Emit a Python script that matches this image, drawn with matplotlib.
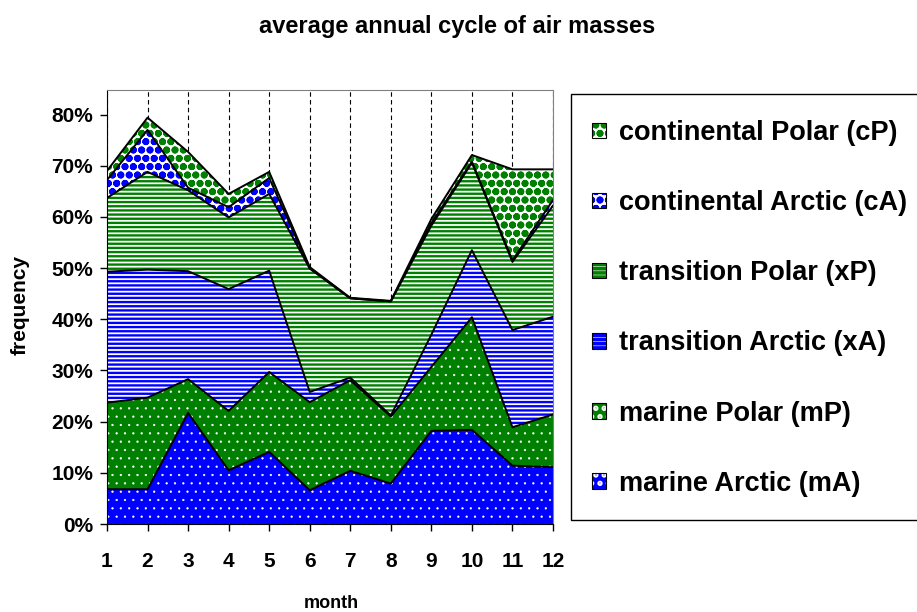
import matplotlib
matplotlib.use("Agg")
import numpy as np
import matplotlib.pyplot as plt
from matplotlib.patches import Patch, Rectangle
from matplotlib.legend_handler import HandlerTuple
from matplotlib.ticker import PercentFormatter

# monthly frequency of each air mass (%)
months = list(range(1, 13))
mA = [6.8, 6.8, 21.7, 10.5, 14.1, 6.6, 10.4, 7.9, 18.2, 18.4, 11.4, 11.1]
mP = [16.9, 17.9, 6.6, 11.6, 15.6, 17.2, 17.7, 13.1, 12.5, 22.0, 7.5, 10.3]
xA = [25.6, 25.0, 21.1, 23.8, 19.8, 2.0, 0.5, 0.2, 6.3, 13.1, 19.0, 19.1]
xP = [14.4, 19.1, 15.8, 14.0, 15.0, 24.1, 15.5, 22.3, 21.3, 17.1, 13.3, 21.7]
cA = [3.5, 8.2, 0.5, 2.0, 3.1, 0.1, 0.0, 0.0, 0.5, 0.2, 0.3, 1.1]
cP = [1.8, 2.4, 7.0, 2.6, 1.2, 0.2, 0.1, 0.1, 0.8, 1.3, 17.8, 6.0]

nomes = ["marine Arctic (mA)", "marine Polar (mP)", "transition Arctic (xA)",
         "transition Polar (xP)", "continental Arctic (cA)", "continental Polar (cP)"]
series = [mA, mP, xA, xP, cA, cP]

# (face, hatch colour, hatch, hatch linewidth)
estilos = [
    ("#0000FF", "white", "..", 0.4),
    ("#008000", "white", "..", 0.4),
    ("white", "#0000FF", "----", 1.7),
    ("white", "#008000", "----", 1.7),
    ("white", "#0000FF", "oo", 2.6),
    ("white", "#008000", "oo", 2.6),
]

plt.rcParams["font.family"] = ["Liberation Sans", "DejaVu Sans"]
plt.rcParams["font.weight"] = "bold"

fig = plt.figure(figsize=(9.17, 6.12), dpi=100)
ax = fig.add_axes([107 / 917, 88 / 612, 446 / 917, 434 / 612])

base = np.zeros(len(months))
handles = []
for valores, (face, hcor, hatch, hlw), nome in zip(series, estilos, nomes):
    topo = base + np.array(valores) / 100
    plt.rcParams["hatch.linewidth"] = hlw
    ax.fill_between(months, base, topo, facecolor=face, edgecolor=hcor,
                    hatch=hatch, linewidth=0, zorder=2)
    ax.plot(months, topo, color="black", lw=1.4, zorder=3)
    p_fill = Patch(facecolor=face, edgecolor=hcor, hatch=hatch, linewidth=0)
    p_borda = Patch(facecolor="none", edgecolor="black", linewidth=0.8)
    handles.append((p_fill, p_borda))
    base = topo

ax.set_xlim(1, 12)
ax.set_ylim(0, 0.848)
ax.set_xticks(months)
ax.set_yticks(np.arange(0, 0.81, 0.1))
ax.yaxis.set_major_formatter(PercentFormatter(1.0, decimals=0))
ax.tick_params(axis="y", length=5, width=1, pad=5, labelsize=15)
ax.tick_params(axis="x", length=5, width=1, pad=15, labelsize=15)

ax.set_axisbelow(True)
ax.xaxis.grid(True, color="black", linestyle=(0, (4, 3)), linewidth=0.8)
for lado in ["top", "right"]:
    ax.spines[lado].set_color("#808080")
for lado in ["left", "bottom"]:
    ax.spines[lado].set_color("black")

fig.text(457 / 917, 1 - 27 / 612, "average annual cycle of air masses",
         ha="center", va="center", fontsize=17, fontweight="bold")
fig.text(20 / 917, 1 - 305 / 612, "frequency", rotation=90,
         ha="center", va="center", fontsize=15, fontweight="bold")
fig.text(331 / 917, 1 - 603 / 612, "month",
         ha="center", va="center", fontsize=13, fontweight="bold")

# legend box runs past the right edge, as in the original
fig.patches.append(Rectangle((571 / 917, 1 - 520 / 612), 0.5, 426 / 612,
                             transform=fig.transFigure, facecolor="white",
                             edgecolor="black", linewidth=1, zorder=0))

leg = fig.legend(handles[::-1], nomes[::-1],
                 handler_map={tuple: HandlerTuple(ndivide=1)},
                 loc="upper left", bbox_to_anchor=(592 / 917, 1 - 120 / 612),
                 frameon=False, prop={"size": 19.5, "weight": "bold"},
                 handlelength=0.5, handleheight=0.5, handletextpad=0.5,
                 labelspacing=1.63, borderpad=0, borderaxespad=0)

fig.savefig("out.png", dpi=100)
